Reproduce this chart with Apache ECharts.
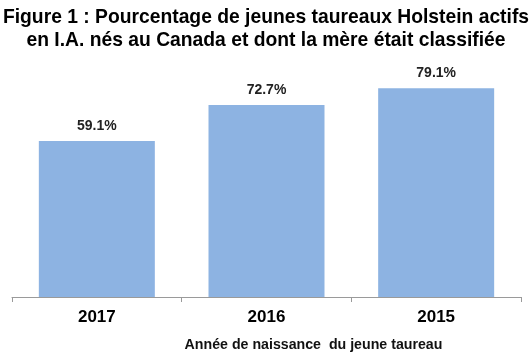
<!DOCTYPE html>
<html><head><meta charset="utf-8">
<script src="https://cdn.jsdelivr.net/npm/echarts@6/dist/echarts.min.js"></script>
<style>html,body{margin:0;padding:0;background:#fff}#c{width:532px;height:361px}</style>
</head><body><div id="c"></div>
<script>
const categories = ['2017', '2016', '2015'];
const values = [59.1, 72.7, 79.1];
const titleLines = ['Figure 1 : Pourcentage de jeunes taureaux Holstein actifs', 'en I.A. nés au Canada et dont la mère était classifiée'];
const xAxisName = 'Année de naissance  du jeune taureau';

const chart = echarts.init(document.getElementById('c'));
chart.setOption({
  animation: false,
  title: {
    text: titleLines.join('\n'),
    left: 'center', top: 1,
    textStyle: {fontFamily: 'Liberation Sans', fontWeight: 'bold', fontSize: 19.3, color: '#000', lineHeight: 23}
  },
  grid: {left: 12, right: 11, top: 33, bottom: 64},
  xAxis: {
    type: 'category', data: categories,
    axisLine: {lineStyle: {color: '#9a9a9a', width: 1}},
    axisTick: {show: true, length: 5, lineStyle: {color: '#9a9a9a'}},
    axisLabel: {fontFamily: 'Liberation Sans', fontWeight: 'bold', fontSize: 17, color: '#000', margin: 12},
    name: xAxisName, nameLocation: 'middle', nameGap: 41,
    nameTextStyle: {fontFamily: 'Liberation Sans', fontWeight: 'bold', fontSize: 14.2, color: '#111', padding: [0, 0, 0, 94]}
  },
  yAxis: {type: 'value', min: 0, max: 100, show: false, splitLine: {show: false}},
  series: [{
    type: 'bar', data: values, barWidth: 116,
    itemStyle: {color: '#8db3e2'},
    label: {show: true, position: 'top', distance: 8, formatter: p => p.value.toFixed(1) + '%',
      fontFamily: 'Liberation Sans', fontWeight: 'bold', fontSize: 14, color: '#222'}
  }]
});
</script></body></html>
